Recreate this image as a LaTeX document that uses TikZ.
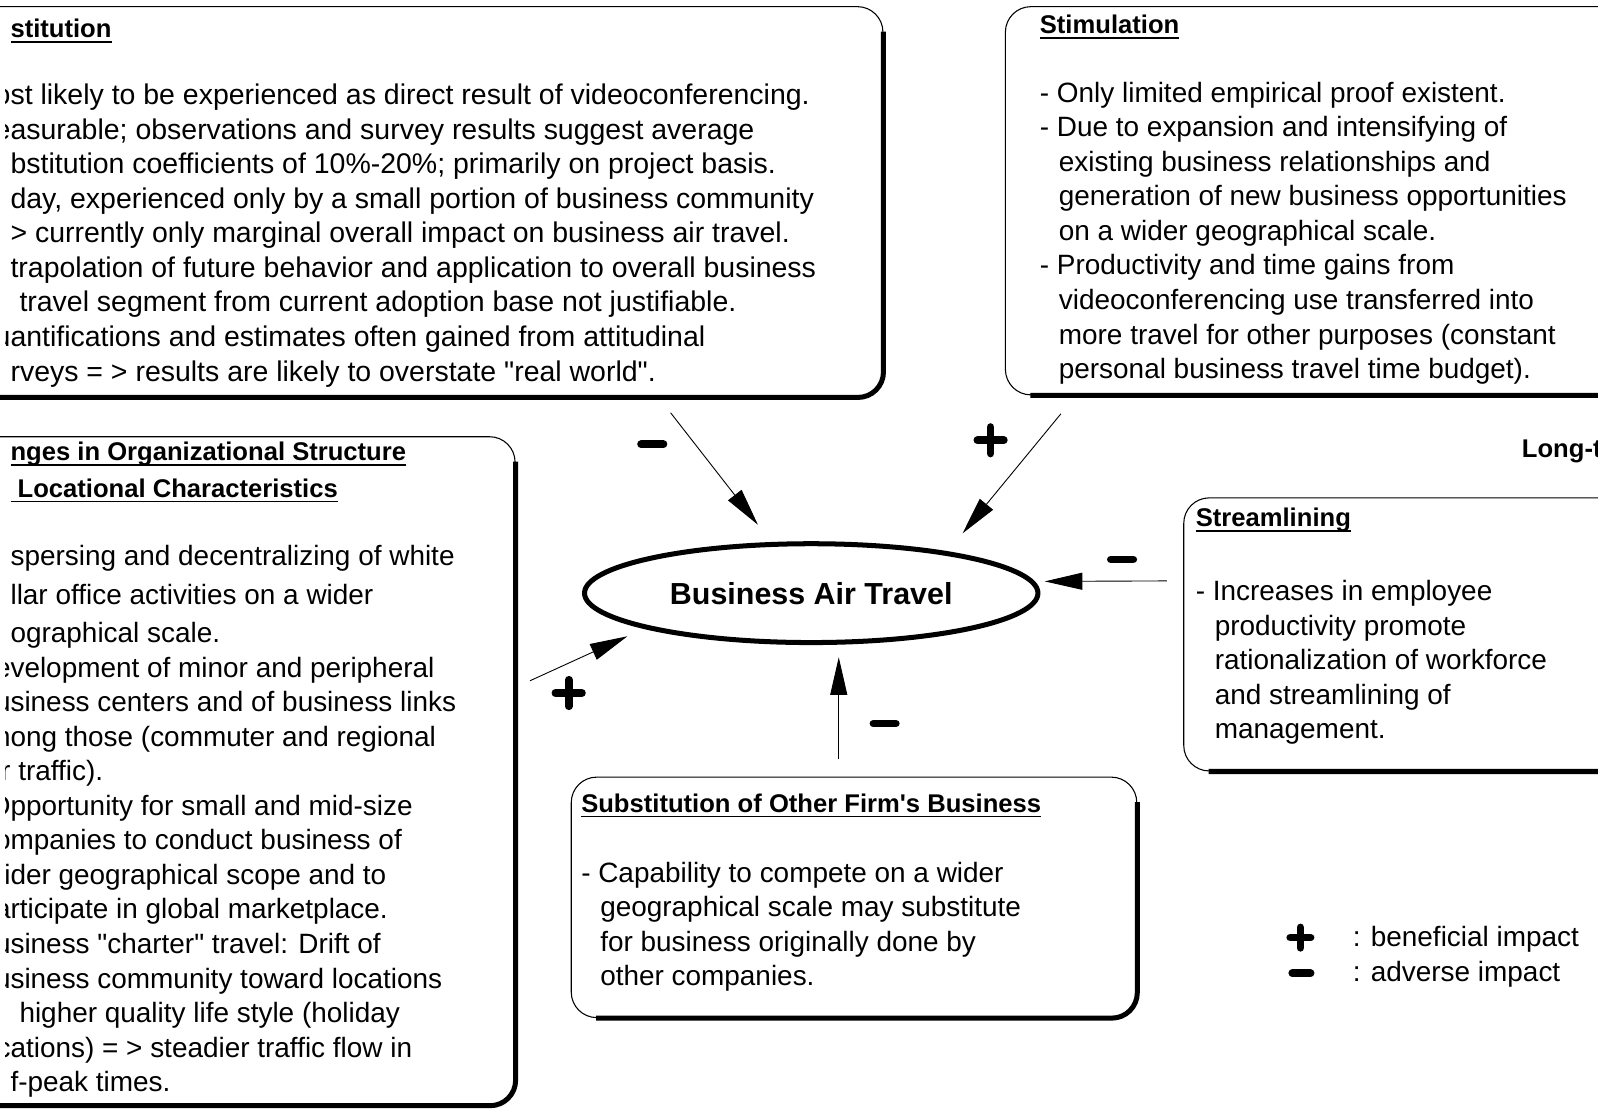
\documentclass[tikz,border=0pt]{standalone}
\usepackage{fontspec}
\setmainfont{Liberation Sans}
\usetikzlibrary{arrows.meta, positioning, shapes.geometric}
% letter cut by the left edge of the scan
\newcommand{\lcut}[1]{\leavevmode\llap{#1}}
\newcommand{\headul}[1]{\leavevmode\setbox0=\hbox{#1}\rlap{\rule[-2.8pt]{\wd0}{0.9pt}}\box0}
\newcommand{\dashgap}{\hspace*{0.68em}}

\begin{document}
\begin{tikzpicture}[x=0.02cm, y=-0.02cm, >={Triangle[length=21pt,width=9.5pt]},
  infobox/.style={draw, line width=0.6pt, rounded corners=0.5cm, anchor=north west, inner sep=0},
  boxshade/.style={line width=2.8pt, rounded corners=0.5cm},
  headtext/.style={anchor=base west, inner sep=0, font=\bfseries\fontsize{14.3}{17}\selectfont},
  bodytext/.style={anchor=north west, align=left, inner sep=0, font=\fontsize{15.6}{19.3}\selectfont},
  impact/.style={->, line width=0.5pt},
  signplus/.style={minimum size=0.8cm, inner sep=0, fill=white, path picture={
    \draw[line width=4.3pt, line cap=round]
      ([xshift=#1]path picture bounding box.west) -- ([xshift=-#1]path picture bounding box.east)
      ([yshift=-#1]path picture bounding box.north) -- ([yshift=#1]path picture bounding box.south);}},
  signplus/.default=0.14cm,
  signminus/.style={minimum width=0.8cm, minimum height=0.4cm, inner sep=0, fill=white, path picture={
    \draw[line width=4.3pt, line cap=round]
      ([xshift=#1]path picture bounding box.west) -- ([xshift=-#1]path picture bounding box.east);}},
  signminus/.default=0.18cm]
  \useasboundingbox (0,0) rectangle (1568,1088);
  \clip (0,0) rectangle (1568,1088);

  % boxes
  \node[infobox, minimum width=18.12cm, minimum height=7.66cm] (substbox) at (-40,6) {};
  \node[infobox, minimum width=13.08cm, minimum height=7.62cm] (stimbox) at (986,6) {};
  \node[infobox, minimum width=10.9cm, minimum height=13.12cm] (orgbox) at (-40,428) {};
  \node[infobox, minimum width=9.58cm, minimum height=5.36cm] (streambox) at (1161,488) {};
  \node[infobox, minimum width=11.1cm, minimum height=4.72cm] (firmbox) at (560,762) {};
  \foreach \b in {substbox,stimbox,orgbox,streambox,firmbox}
    \draw[boxshade] ([yshift=-0.5cm]\b.north east) -- (\b.south east) -- ([xshift=0.5cm]\b.south west);

  % texts cut at the left edge
  \begin{scope}
    \clip (5,0) rectangle (1568,1088);
    \node[headtext] (substhead) at (10,37) {\headul{stitution}};
    \node[bodytext, font=\fontsize{15.9}{19.3}\selectfont] (substtext) at (10,82) {\lcut{o}st likely to be experienced as direct result of videoconferencing.\\
      \lcut{e}asurable; observations and survey results suggest average\\
      bstitution coefficients of 10\%-20\%; primarily on project basis.\\
      day, experienced only by a small portion of business community\\
      > currently only marginal overall impact on business air travel.\\
      trapolation of future behavior and application to overall business\\
      \hspace*{5pt}travel segment from current adoption base not justifiable.\\
      \lcut{u}antifications and estimates often gained from attitudinal\\
      rveys = > results are likely to overstate \textquotedbl real world\textquotedbl.};
    \node[headtext] (orghead) at (10,452) {\headul{nges in Organizational Structure}};
    \node[headtext] (orghead2) at (10,488) {\headul{\ Locational Characteristics}};
    \node[bodytext] (orgtext) at (10,534.5) {spersing and decentralizing of white\\[2.8pt]
      llar office activities on a wider\\[1.7pt]
      ographical scale.\\
      \lcut{e}velopment of minor and peripheral\\
      \lcut{u}siness centers and of business links\\
      \lcut{m}ong those (commuter and regional\\
      \lcut{r} traffic).\\
      \lcut{O}pportunity for small and mid-size\\
      \lcut{o}mpanies to conduct business of\\
      \lcut{i}der geographical scope and to\\
      \lcut{a}rticipate in global marketplace.\\
      \lcut{u}siness \textquotedbl charter\textquotedbl{} travel: Drift of\\
      \lcut{u}siness community toward locations\\
      \hspace*{5pt}higher quality life style (holiday\\
      \lcut{c}ations) = > steadier traffic flow in\\
      f-peak times.};
  \end{scope}

  \node[headtext] (stimhead) at (1020,33) {\headul{Stimulation}};
  \node[bodytext] (stimtext) at (1020,80) {- Only limited empirical proof existent.\\
    - Due to expansion and intensifying of\\
    \dashgap existing business relationships and\\
    \dashgap generation of new business opportunities\\
    \dashgap on a wider geographical scale.\\
    - Productivity and time gains from\\
    \dashgap videoconferencing use transferred into\\
    \dashgap more travel for other purposes (constant\\
    \dashgap personal business travel time budget).};
  \node[headtext] (streamhead) at (1173,517) {\headul{Streamlining}};
  \node[bodytext] (streamtext) at (1173,569) {- Increases in employee\\
    \dashgap productivity promote\\
    \dashgap rationalization of workforce\\
    \dashgap and streamlining of\\
    \dashgap management.};
  \node[headtext] (firmhead) at (570,797) {\headul{Substitution of Other Firm\textquotesingle s Business}};
  \node[bodytext] (firmtext) at (570,845.5) {- Capability to compete on a wider\\
    \dashgap geographical scale may substitute\\
    \dashgap for business originally done by\\
    \dashgap other companies.};
  \node[headtext] (longterm) at (1493,449) {Long-t};

  % centre
  \node[ellipse, draw, line width=2.8pt, minimum width=8.9cm, minimum height=1.94cm, inner sep=0,
    font=\bfseries\fontsize{17}{20}\selectfont] (bat) at (796,582) {Business Air Travel};

  % impacts
  \coordinate (substend) at (658,405);
  \coordinate (stimend) at (1041,406);
  \coordinate (streamend) at (1145,570);
  \coordinate (firmend) at (823,745);
  \coordinate (orgend) at (520,668);
  \draw[impact, shorten >=0.43cm] (substend) -- (bat);
  \draw[impact, shorten >=0.46cm] (stimend) -- (bat.17);
  \draw[impact, shorten >=0.2cm] (streamend) -- (bat.3);
  \draw[impact, shorten >=0.24cm] (firmend) -- (firmend |- bat.south);
  \draw[impact, shorten >=0.36cm] (orgend) -- (bat.192);

  \node[signminus] (substsign) at (640,436) {};
  \node[signplus] (stimsign) at (972,432) {};
  \node[signminus] (streamsign) at (1101,549) {};
  \node[signminus] (firmsign) at (868,710) {};
  \node[signplus] (orgsign) at (558,680) {};

  % key
  \node[signplus=0.2cm] (keyplus) at (1276,920) {};
  \node[signminus=0.22cm] (keyminus) at (1277,955) {};
  \node[bodytext, anchor=base west] (keyplustext) at (1327,929) {: beneficial impact};
  \node[bodytext, anchor=base west] (keyminustext) at (1327,963) {: adverse impact};
\end{tikzpicture}
\end{document}
